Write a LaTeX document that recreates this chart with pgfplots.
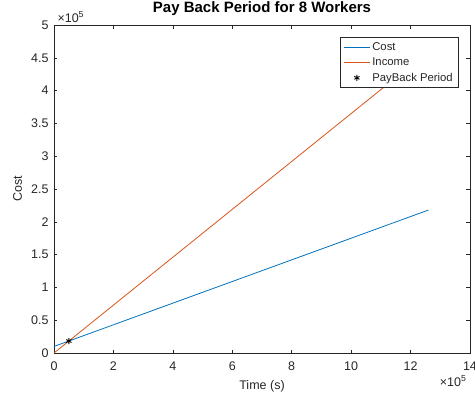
\documentclass[border=0pt]{standalone}
\usepackage{fontspec}
\setmainfont{Liberation Sans}
\usepackage{pgfplots}
\pgfplotsset{compat=1.18}
\definecolor{mblue}{rgb}{0,0.447,0.741}
\definecolor{morange}{rgb}{0.85,0.325,0.098}
\definecolor{axgray}{rgb}{0.15,0.15,0.15}
\begin{document}
\begin{tikzpicture}
\begin{axis}[
  name=ax,
  scale only axis, width=416pt, height=328pt,
  xmin=0, xmax=14, ymin=0, ymax=5,
  xtick={0,2,...,14}, ytick={0,0.5,...,5},
  tick align=inside, major tick length=3.5pt,
  axis line style={axgray, line width=0.6pt},
  tick style={axgray, line width=0.6pt},
  tick label style={font=\fontsize{12.5}{14}\selectfont, text=axgray},
  x tick label style={yshift=-5pt},
  y tick label style={xshift=-2pt},
  /pgf/number format/assume math mode=true,
  title={Pay Back Period for 8 Workers},
  title style={font=\fontsize{15}{17}\selectfont\bfseries, at={(axis description cs:0.5,1)}, anchor=base, yshift=7pt},
  xlabel={Time (s)},
  xlabel style={font=\fontsize{12.5}{14}\selectfont, text=axgray, at={(axis description cs:0.5,0)}, anchor=base, yshift=-36pt},
  ylabel={Cost},
  ylabel style={font=\fontsize{12.5}{14}\selectfont, text=axgray, at={([xshift=-32pt]axis description cs:0,0.5)}, anchor=base},
  legend style={at={(0.971,0.963)}, anchor=north east, font=\fontsize{11.3}{13}\selectfont, draw=axgray, cells={anchor=west}, text=axgray, row sep=2pt, inner ysep=3pt},
  legend image code/.code={\draw[mark repeat=2,mark phase=2,#1] plot coordinates {(0pt,0pt) (13pt,0pt) (26pt,0pt)};},
]
\addplot[mblue, line width=0.8pt] coordinates {(0,0.1) (12.6,2.179)};
\addlegendentry{Cost}
\addplot[morange, line width=0.8pt] coordinates {(0,0) (12.6,4.599)};
\addlegendentry{Income}
\addplot[only marks, mark=asterisk, mark size=3pt, black, line width=0.9pt] coordinates {(0.5,0.1825)};
\addlegendentry{PayBack Period}
\end{axis}
\node[anchor=base west, font=\fontsize{12.5}{14}\selectfont, text=axgray, yshift=3pt] at (ax.north west) {×10\textsuperscript{5}};
\node[anchor=base east, font=\fontsize{12.5}{14}\selectfont, text=axgray, yshift=-33pt] at (ax.south east) {×10\textsuperscript{5}};
\pgfresetboundingbox
\path (-54pt,-47pt) rectangle (421pt,353pt);
\end{tikzpicture}
\end{document}
